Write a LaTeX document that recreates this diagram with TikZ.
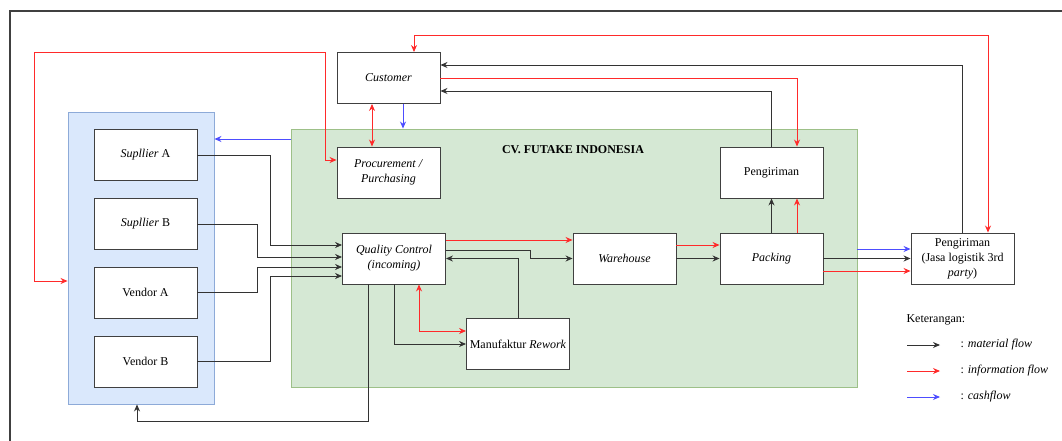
\documentclass[tikz,border=0pt]{standalone}
\usepackage{fontspec}
\setmainfont{Liberation Serif}
\usetikzlibrary{arrows.meta}

\definecolor{infored}{HTML}{FF2A2A}
\definecolor{cashblue}{HTML}{4D4DFF}
\definecolor{grpfill}{HTML}{DAE8FC}
\definecolor{grpline}{HTML}{8DAAD8}
\definecolor{cvfill}{HTML}{D5E8D4}
\definecolor{cvline}{HTML}{9DC088}

\tikzset{
  box/.style={draw=black!75,fill=white,line width=0.9pt,minimum width=103pt,minimum height=51pt,
    inner sep=2pt,align=center,font=\fontsize{12}{15}\selectfont},
  flow/.style={line width=0.9pt,-{Stealth[length=7pt,width=6pt]}},
  mat/.style={flow,draw=black!80},
  info/.style={flow,draw=infored},
  cash/.style={flow,draw=cashblue},
  both/.style={{Stealth[length=7pt,width=6pt]}-{Stealth[length=7pt,width=6pt]}}
}

\begin{document}
\begin{tikzpicture}[x=1pt,y=-1pt]

\useasboundingbox (0,0) rectangle (1062,441);
\clip (0,0) rectangle (1062,441);
\draw[black!75,line width=1.5pt] (10,441) |- (1062,11);

\node[fill=grpfill,draw=grpline,line width=0.9pt,minimum width=146pt,minimum height=292pt] (grp) at (141,258) {};
\node[fill=cvfill,draw=cvline,line width=0.9pt,minimum width=566pt,minimum height=258pt] (cv) at (574,258) {};
\node[font=\fontsize{12}{15}\selectfont\bfseries] (cvname) at (573,150) {CV. FUTAKE INDONESIA};

\node[box] (supA) at (145.5,155) {\textit{Supllier} A};
\node[box] (supB) at (145.5,224) {\textit{Supllier} B};
\node[box] (venA) at (145.5,292.5) {Vendor A};
\node[box] (venB) at (145.5,361.5) {Vendor B};

\node[box] (cust) at (388.5,78) {\textit{Customer}};
\node[box] (proc) at (388.5,172.5) {\textit{Procurement /}\\\textit{Purchasing}};
\node[box] (qc) at (394,258.5) {\textit{Quality Control}\\\textit{(incoming)}};
\node[box] (wh) at (624.5,258.5) {\textit{Warehouse}};
\node[box] (rework) at (518,344) {Manufaktur \textit{Rework}};
\node[box] (kirim) at (771.5,172.5) {Pengiriman};
\node[box] (pack) at (771.5,258.5) {\textit{Packing}};
\node[box] (kirim3) at (962.5,258.5) {Pengiriman\\(Jasa logistik 3rd\\\textit{party})};

% suppliers -> quality control
\draw[mat] (supA.east) -| (270,245) -- (qc.west |- 0,245);
\draw[mat] (supB.east) -| (257,257) -- (qc.west |- 0,257);
\draw[mat] (venA.east) -| (257,267) -- (qc.west |- 0,267);
\draw[mat] (venB.east) -| (270,276) -- (qc.west |- 0,276);
\draw[mat] (qc.south -| 368,0) |- (137,421) -- (grp.south -| 137,0);

\draw[info,both] (grp.west |- 0,281) -| (34,52) -| (325,160) -- (proc.west |- 0,160);
\draw[cash] (cv.west |- 0,139) -- (grp.east |- 0,139);
\draw[info,both] (cust.south -| 372,0) -- (proc.north -| 372,0);
\draw[cash] (cust.south -| 403,0) -- (cv.north -| 403,0);

% inside
\draw[info] (qc.east |- 0,240) -- (wh.west |- 0,240);
\draw[mat] (qc.east |- 0,250) -| (530,258.5) -- (wh.west);
\draw[mat] (rework.north) |- (qc.east);
\draw[mat] (qc.south -| 394,0) |- (rework.west);
\draw[info,both] (qc.south -| 419,0) |- (rework.west |- 0,331);
\draw[info] (wh.east |- 0,245) -- (pack.west |- 0,245);
\draw[mat] (wh.east) -- (pack.west);
\draw[mat] (pack.north) -- (kirim.south);
\draw[info] (pack.north -| 797,0) -- (kirim.south -| 797,0);

% to 3rd party and customer
\draw[cash] (cv.east |- 0,249) -- (kirim3.west |- 0,249);
\draw[mat] (pack.east) -- (kirim3.west);
\draw[info] (pack.east |- 0,271) -- (kirim3.west |- 0,271);
\draw[mat] (kirim.north) |- (cust.east |- 0,91);
\draw[info] (cust.east) -| (kirim.north -| 797,0);
\draw[mat] (kirim3.north) |- (cust.east |- 0,65);
\draw[info,both] (cust.north -| 414,0) |- (988,35) -- (kirim3.north -| 988,0);

% legend
\node[anchor=west,font=\fontsize{12}{15}\selectfont] (ket) at (903,320) {Keterangan:};
\coordinate (lm) at (907,345);
\coordinate (li) at (907,371);
\coordinate (lc) at (907,397);
\draw[mat] (lm) -- ++(33,0);
\draw[info] (li) -- ++(33,0);
\draw[cash] (lc) -- ++(33,0);
\node[anchor=west,font=\fontsize{12}{15}\selectfont] (tm) at (957,345) {: \textit{material flow}};
\node[anchor=west,font=\fontsize{12}{15}\selectfont] (ti) at (957,371) {: \textit{information flow}};
\node[anchor=west,font=\fontsize{12}{15}\selectfont] (tc) at (957,397) {: \textit{cashflow}};

\end{tikzpicture}
\end{document}
